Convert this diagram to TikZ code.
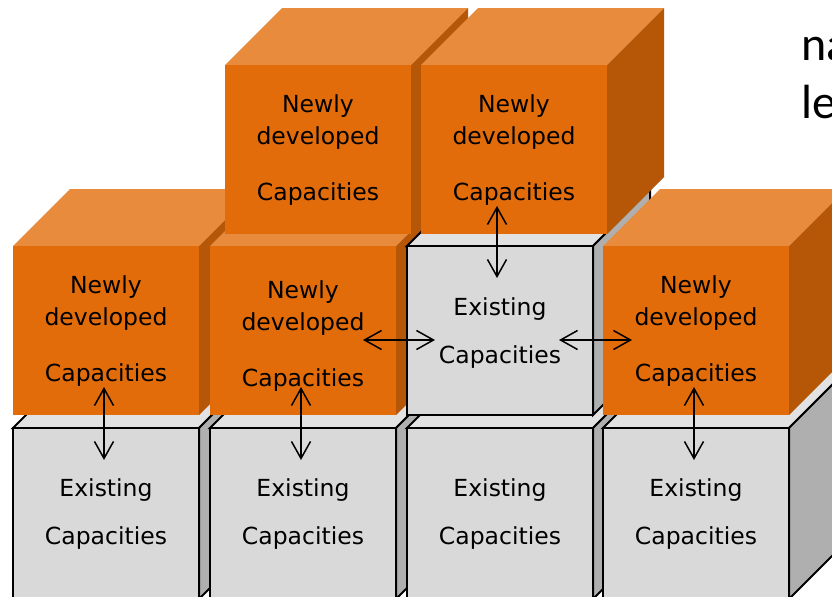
\documentclass[tikz,border=0pt]{standalone}
\usepackage{fontspec}
\setmainfont{DejaVu Sans}
\newfontfamily\carlitofont{Carlito}
\usetikzlibrary{arrows.meta,calc}
\definecolor{ofront}{HTML}{E36C0A}
\definecolor{otop}{HTML}{E98B3D}
\definecolor{oside}{HTML}{B65708}
\definecolor{gfront}{HTML}{D9D9D9}
\definecolor{gtop}{HTML}{E2E2E2}
\definecolor{gside}{HTML}{AFAFAF}
\tikzset{
  frontbase/.style={rectangle, minimum width=93pt, inner sep=0pt, outer sep=0pt, anchor=north west},
  ofrontface/.style={frontbase, fill=ofront, draw=none},
  gfrontface/.style={frontbase, fill=gfront, draw=black, line width=1pt},
  otopface/.style={fill=otop},
  osideface/.style={fill=oside},
  gtopface/.style={fill=gtop, draw=black, line width=1pt, line join=miter},
  gsideface/.style={fill=gside, draw=black, line width=1pt, line join=miter},
  lbl/.style={anchor=base, inner sep=0pt, font=\fontsize{11.75}{14}\selectfont},
  biarrow/.style={line width=0.75pt, {Straight Barb[length=8.5pt,width=9.5pt]}-{Straight Barb[length=8.5pt,width=9.5pt]}},
  sidetext/.style={anchor=base west, inner sep=0pt, font=\carlitofont\fontsize{24}{29}\selectfont}
}
% x, y (front top-left), height, top style, side style
\newcommand\cubefaces[5]{%
  \path[#4] (#1,#2) -- ++(57,-57) -- ++(186,0) -- ++(-57,57) -- cycle;
  \path[#5] ({#1+186},#2) -- ++(57,-57) -- ++(0,#3) -- ++(-57,57) -- cycle;
}
% name, x, y, height
\newcommand\orangecube[4]{%
  \cubefaces{#2}{#3}{#4}{otopface}{osideface}
  \node[ofrontface, minimum height={#4*0.5pt}] (#1) at (#2,#3) {};
}
\newcommand\graycube[4]{%
  \cubefaces{#2}{#3}{#4}{gtopface}{gsideface}
  \node[gfrontface, minimum height={#4*0.5pt}] (#1) at (#2,#3) {};
}
\newcommand\newlylabels[2]{%
  \node[lbl] at ($(#1.north)+(0,#2)$) {Newly};
  \node[lbl] at ($(#1.north)+(0,#2+32)$) {developed};
  \node[lbl] at ($(#1.north)+(0,#2+88)$) {Capacities};
}
\newcommand\existinglabels[2]{%
  \node[lbl] at ($(#1.north)+(0,#2)$) {Existing};
  \node[lbl] at ($(#1.north)+(0,#2+48)$) {Capacities};
}
\begin{document}
\begin{tikzpicture}[x=0.5pt,y=-0.5pt]
\useasboundingbox (0,0) rectangle (832,596);
\clip (0,0) rectangle (832,596);
\fill[white] (0,0) rectangle (832,596);
% bottom row
\graycube{b1}{13}{428}{171}
\graycube{b2}{210}{428}{171}
\graycube{b3}{407}{428}{171}
\graycube{b4}{603}{428}{171}
% middle row
\orangecube{m1}{13}{246}{169}
\orangecube{m2}{210}{246}{169}
\graycube{m3}{407}{246}{169}
\orangecube{m4}{603}{246}{169}
% top row
\orangecube{t1}{225}{65}{169}
\orangecube{t2}{421}{65}{169}
% labels
\existinglabels{b1}{68}
\existinglabels{b2}{68}
\existinglabels{b3}{68}
\existinglabels{b4}{68}
\existinglabels{m3}{69}
\newlylabels{m1}{47}
\newlylabels{m2}{52}
\newlylabels{m4}{47}
\newlylabels{t1}{47}
\newlylabels{t2}{47}
% side text (cut off at the right edge, as in the reference)
\node[sidetext] (na) at (801,60) {na};
\node[sidetext] (le) at (801,118) {le};
% arrows
\coordinate (a1) at ($(m1.south)+(-2,-28)$);
\coordinate (a2) at ($(b1.north)+(-2,32)$);
\coordinate (b1a) at ($(m2.south)+(-2,-28)$);
\coordinate (b2a) at ($(b2.north)+(-2,32)$);
\coordinate (c1) at ($(m4.south)+(-2,-28)$);
\coordinate (c2) at ($(b4.north)+(-2,32)$);
\coordinate (d1) at ($(t2.south)+(-17,-28)$);
\coordinate (d2) at ($(m3.north)+(-3,32)$);
\coordinate (e1) at ($(m2.east)+(-33,9.5)$);
\coordinate (e2) at ($(m3.west)+(28,9.5)$);
\coordinate (f1) at ($(m3.east)+(-34,9.5)$);
\coordinate (f2) at ($(m4.west)+(29,9.5)$);
\draw[biarrow] (a1) -- (a2);
\draw[biarrow] (b1a) -- (b2a);
\draw[biarrow] (c1) -- (c2);
\draw[biarrow] (d1) -- (d2);
\draw[biarrow] (e1) -- (e2);
\draw[biarrow] (f1) -- (f2);
\end{tikzpicture}
\end{document}
